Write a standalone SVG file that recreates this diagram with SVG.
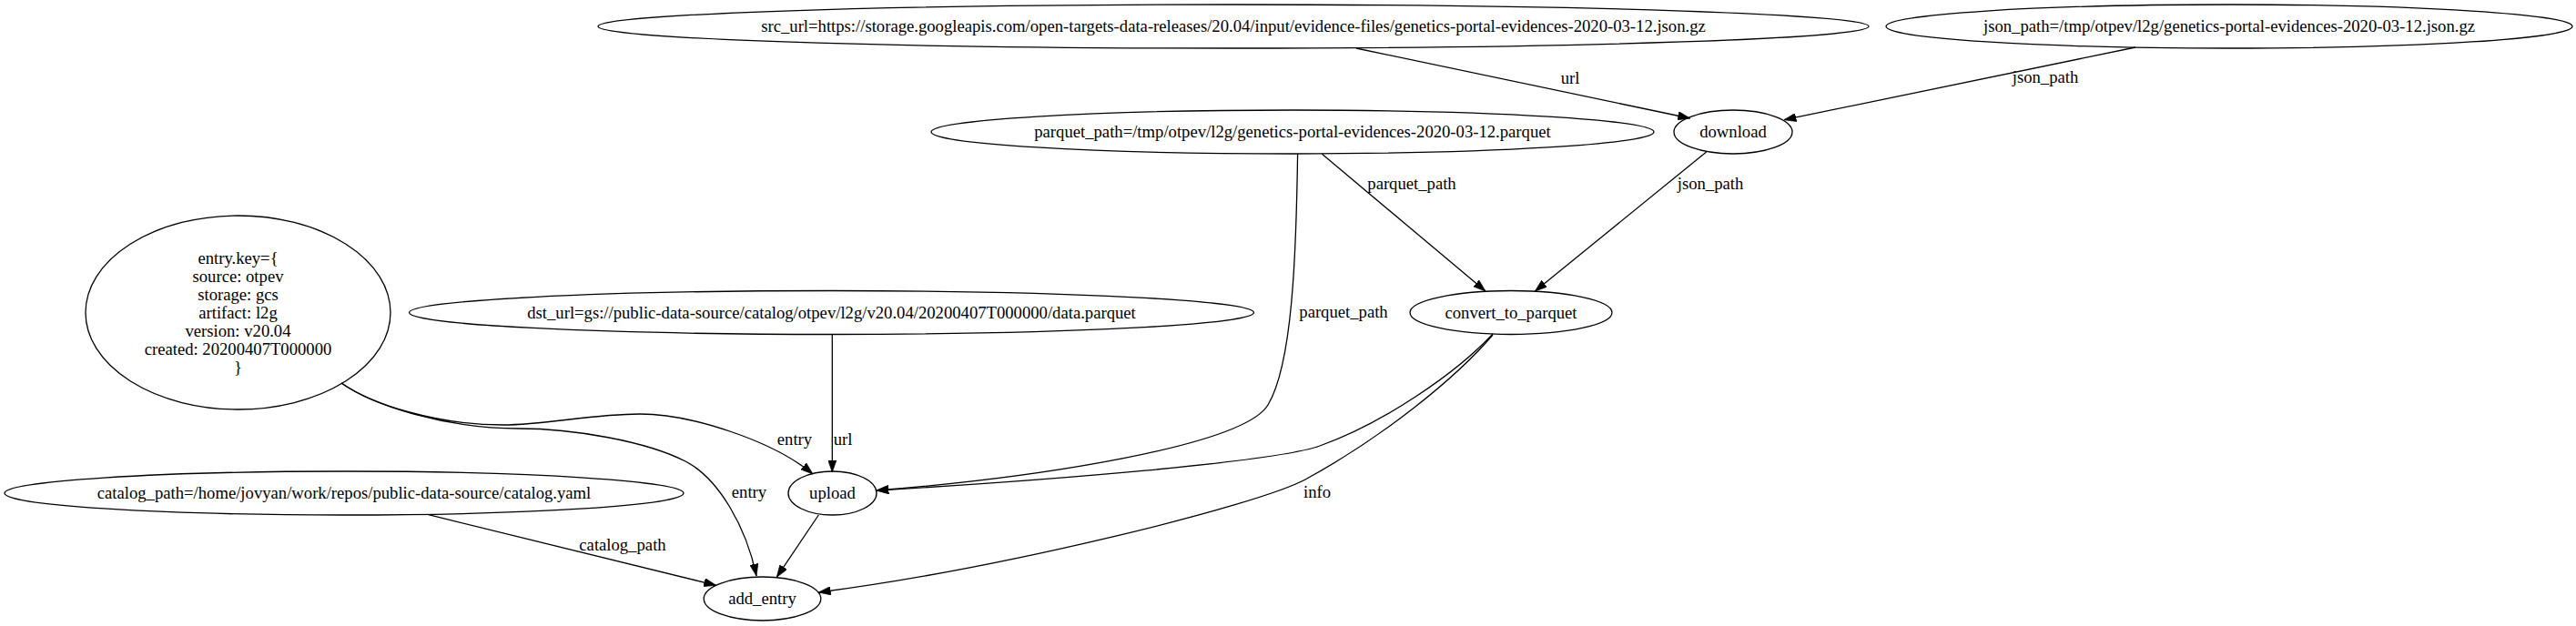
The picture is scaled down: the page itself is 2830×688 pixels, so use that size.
<svg xmlns="http://www.w3.org/2000/svg" width="2830" height="688" viewBox="0 0 2830 688">
<style>
.n ellipse{fill:none;stroke:#000;stroke-width:1.3}
text{font-family:"Liberation Serif","Times New Roman",serif;font-size:18.67px;fill:#000;text-anchor:middle}
.e path{fill:none;stroke:#000;stroke-width:1.3}
</style>
<defs>
<marker id="arr" viewBox="0 0 10 7" refX="10" refY="3.5" markerWidth="13.3" markerHeight="9.3" markerUnits="userSpaceOnUse" orient="auto">
<path d="M0,0 L10,3.5 L0,7 z" fill="#000" stroke="#000" stroke-width="0.5"/>
</marker>
</defs>
<rect x="0" y="0" width="2830" height="688" fill="#fff"/>
<g class="e" id="edges">
<path d="M1490,53 L1856.7,130" marker-end="url(#arr)"/>
<text x="1725" y="92">url</text>
<path d="M2346,52 L1960,131.7" marker-end="url(#arr)"/>
<text x="2247" y="91">json_path</text>
<path d="M1452.4,169.3 L1632,320" marker-end="url(#arr)"/>
<text x="1551" y="208">parquet_path</text>
<path d="M1874.6,167 L1686.4,320" marker-end="url(#arr)"/>
<text x="1879" y="208">json_path</text>
<path d="M1425.6,169 C1424,280 1420,400 1393,445 C1366,490 1140,525 963,539" marker-end="url(#arr)"/>
<text x="1476" y="349">parquet_path</text>
<path d="M1640,367 C1600,410 1520,465 1450,490 C1400,508 1150,528 963,539" marker-end="url(#arr)"/>
<path d="M1640,368 C1600,415 1520,480 1434,527 C1380,556 1100,625 899.3,651" marker-end="url(#arr)"/>
<text x="1447" y="547">info</text>
<path d="M375,421 C410,445 480,467 553,467 C600,467 650,455 703,455 C760,455 850,485 893,521" marker-end="url(#arr)"/>
<text x="873" y="489">entry</text>
<path d="M375,421 C410,446 490,471 570,471 C630,471 710,485 753,507 C790,526 820,580 831,633" marker-end="url(#arr)"/>
<text x="823" y="547">entry</text>
<path d="M914.3,367.5 L914.3,519" marker-end="url(#arr)"/>
<text x="926" y="489">url</text>
<path d="M470.7,565.7 L786.7,643.3" marker-end="url(#arr)"/>
<text x="684" y="605">catalog_path</text>
<path d="M899.3,566 L853.3,634.3" marker-end="url(#arr)"/>
</g>
<g class="n" id="src_url">
<ellipse cx="1355" cy="29" rx="698" ry="24"/>
<text x="1355" y="35">src_url=https://storage.googleapis.com/open-targets-data-releases/20.04/input/evidence-files/genetics-portal-evidences-2020-03-12.json.gz</text>
</g>
<g class="n" id="json_path">
<ellipse cx="2449" cy="29" rx="377" ry="24"/>
<text x="2449" y="35">json_path=/tmp/otpev/l2g/genetics-portal-evidences-2020-03-12.json.gz</text>
</g>
<g class="n" id="parquet_path">
<ellipse cx="1420" cy="145" rx="397" ry="24"/>
<text x="1420" y="151">parquet_path=/tmp/otpev/l2g/genetics-portal-evidences-2020-03-12.parquet</text>
</g>
<g class="n" id="download">
<ellipse cx="1904" cy="145" rx="65" ry="24"/>
<text x="1904" y="151">download</text>
</g>
<g class="n" id="entry_key">
<ellipse cx="261.5" cy="343.5" rx="167.5" ry="106.5"/>
<text x="261.5" y="290">entry.key={</text>
<text x="261.5" y="310">source: otpev</text>
<text x="261.5" y="330">storage: gcs</text>
<text x="261.5" y="350">artifact: l2g</text>
<text x="261.5" y="370">version: v20.04</text>
<text x="261.5" y="390">created: 20200407T000000</text>
<text x="261.5" y="410">}</text>
</g>
<g class="n" id="dst_url">
<ellipse cx="913.5" cy="343.5" rx="464" ry="24"/>
<text x="913.5" y="349.5">dst_url=gs://public-data-source/catalog/otpev/l2g/v20.04/20200407T000000/data.parquet</text>
</g>
<g class="n" id="convert_to_parquet">
<ellipse cx="1660" cy="343.5" rx="111" ry="24"/>
<text x="1660" y="349.5">convert_to_parquet</text>
</g>
<g class="n" id="catalog_path">
<ellipse cx="378" cy="542" rx="373" ry="24"/>
<text x="378" y="548">catalog_path=/home/jovyan/work/repos/public-data-source/catalog.yaml</text>
</g>
<g class="n" id="upload">
<ellipse cx="914.5" cy="542" rx="48.5" ry="24"/>
<text x="914.5" y="548">upload</text>
</g>
<g class="n" id="add_entry">
<ellipse cx="837.5" cy="658" rx="64.3" ry="24"/>
<text x="837.5" y="664">add_entry</text>
</g>
</svg>
